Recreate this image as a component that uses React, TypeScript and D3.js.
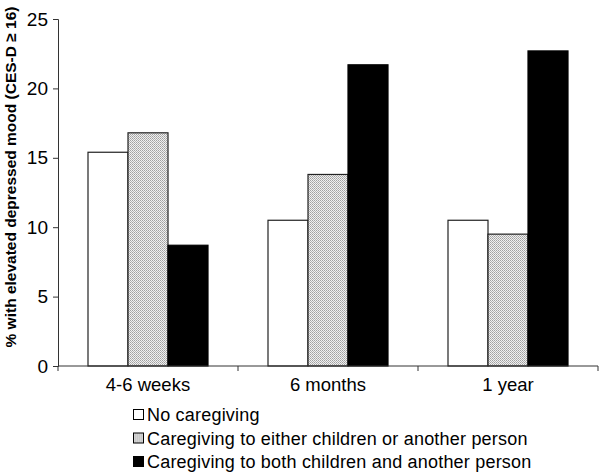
import { useEffect, useRef } from "react";
import * as d3 from "d3";

const categories = ["4-6 weeks", "6 months", "1 year"];
const seriesNames = [
  "No caregiving",
  "Caregiving to either children or another person",
  "Caregiving to both children and another person",
];
const noCare = [15.4, 10.5, 10.5];
const eitherCare = [16.8, 13.8, 9.5];
const bothCare = [8.7, 21.7, 22.7];
const yTicks = [0, 5, 10, 15, 20, 25];

const fills = ["#ffffff", "url(#dots)", "#000000"];

const App = () => {
  const ref = useRef<SVGSVGElement>(null);

  useEffect(() => {
    const width = 600, height = 472;
    const left = 58, right = 598, top = 19, bottom = 366;

    const svg = d3.select(ref.current)
      .html("")
      .attr("width", width)
      .attr("height", height)
      .style("position", "absolute")
      .style("left", "0px")
      .style("top", "0px")
      .style("font-family", "Liberation Sans, Arial, sans-serif");

    const pat = svg.append("defs").append("pattern")
      .attr("id", "dots")
      .attr("patternUnits", "userSpaceOnUse")
      .attr("width", 2)
      .attr("height", 2);
    pat.append("rect").attr("width", 2).attr("height", 2).attr("fill", "#f0f0f0");
    pat.append("rect").attr("width", 1).attr("height", 1).attr("fill", "#a0a0a0");
    pat.append("rect").attr("x", 1).attr("y", 1).attr("width", 1).attr("height", 1).attr("fill", "#b4b4b4");

    const y = d3.scaleLinear().domain([0, 25]).range([bottom, top]);
    const x0 = d3.scaleBand().domain(categories).range([left, right]).paddingInner(0).paddingOuter(0);
    const x1 = d3.scaleBand().domain(["0", "1", "2"]).range([0, x0.bandwidth()]).paddingInner(0).paddingOuter(0.75);

    const data = categories.map((c, i) => [noCare[i], eitherCare[i], bothCare[i]]);

    const g = svg.append("g");
    categories.forEach((c, i) => {
      g.selectAll(null)
        .data(data[i])
        .enter()
        .append("rect")
        .attr("x", (d, j) => x0(c)! + x1(String(j))!)
        .attr("y", d => y(d))
        .attr("width", x1.bandwidth())
        .attr("height", d => bottom - y(d))
        .attr("fill", (d, j) => fills[j])
        .attr("stroke", (d, j) => j === 2 ? "#000" : "#222")
        .attr("stroke-width", 1.2);
    });

    // y axis
    const yAxis = svg.append("g")
      .attr("transform", `translate(${left},0)`)
      .call(d3.axisLeft(y).tickValues(yTicks).tickSize(5).tickPadding(5));
    yAxis.select(".domain").attr("stroke", "#333");
    yAxis.selectAll(".tick line").attr("stroke", "#333");
    yAxis.selectAll("text")
      .attr("font-size", 19)
      .attr("font-family", "Liberation Sans, Arial, sans-serif")
      .attr("fill", "#000");

    // x axis
    const xg = svg.append("g").attr("transform", `translate(0,${bottom})`);
    xg.append("line")
      .attr("x1", left).attr("x2", right)
      .attr("stroke", "#333");
    const bounds = [left, ...categories.map(c => x0(c)! + x0.bandwidth())];
    xg.selectAll(".xt")
      .data(bounds)
      .enter()
      .append("line")
      .attr("x1", d => d).attr("x2", d => d)
      .attr("y1", 0).attr("y2", 5)
      .attr("stroke", "#333");
    xg.selectAll(".xl")
      .data(categories)
      .enter()
      .append("text")
      .attr("x", d => x0(d)! + x0.bandwidth() / 2)
      .attr("y", 25)
      .attr("text-anchor", "middle")
      .attr("font-size", 18.5)
      .text(d => d);

    // y label
    svg.append("text")
      .attr("transform", "translate(16,177) rotate(-90)")
      .attr("text-anchor", "middle")
      .attr("font-size", 15.5)
      .attr("font-weight", "bold")
      .text("% with elevated depressed mood (CES-D \u2265 16)");

    // legend
    const lg = svg.append("g").attr("transform", "translate(133,421)");
    seriesNames.forEach((name, i) => {
      const row = lg.append("g").attr("transform", `translate(0,${i * 23.5})`);
      row.append("rect")
        .attr("x", 0.5).attr("y", -11.5)
        .attr("width", 10).attr("height", 10)
        .attr("fill", fills[i])
        .attr("stroke", "#000")
        .attr("stroke-width", 1);
      row.append("text")
        .attr("x", 14)
        .attr("y", 0)
        .attr("font-size", 18)
        .attr("letter-spacing", 0.2)
        .text(name);
    });
  }, []);

  return <svg ref={ref}></svg>;
};

export default App;
